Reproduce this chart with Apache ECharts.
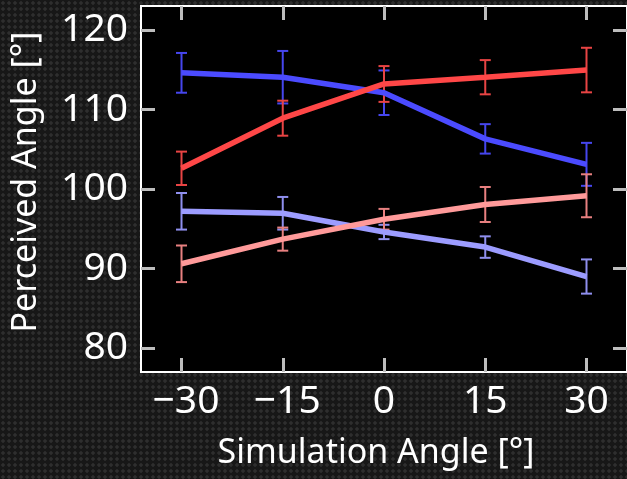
<!DOCTYPE html>
<html>
<head>
<meta charset="utf-8">
<script src="https://cdn.jsdelivr.net/npm/echarts@6/dist/echarts.min.js"></script>
<style>
html, body { margin: 0; padding: 0; }
body {
  width: 627px; height: 479px; overflow: hidden;
  background-color: #171717;
  background-image: radial-gradient(circle, #2e2e2e 1.4px, rgba(0,0,0,0) 2.1px);
  background-size: 6px 6px;
}
#chart { width: 627px; height: 479px; }
</style>
</head>
<body>
<div id="chart"></div>
<script>
// ---- data ----
const xValues = [-30, -15, 0, 15, 30];
const blueMean = [114.6, 114.05, 112.1, 106.3, 103.1];
const blueErr = [2.5, 3.3, 2.8, 1.85, 2.7];
const redMean = [102.6, 108.9, 113.2, 114.05, 114.95];
const redErr = [2.1, 2.2, 2.25, 2.15, 2.8];
const lightBlueMean = [97.2, 96.95, 94.6, 92.7, 89.0];
const lightBlueErr = [2.3, 2.05, 0.9, 1.35, 2.15];
const lightRedMean = [90.6, 93.7, 96.2, 98.05, 99.15];
const lightRedErr = [2.3, 1.45, 1.3, 2.2, 2.7];
const xTicks = [-30, -15, 0, 15, 30];
const yTicks = [80, 90, 100, 110, 120];
const xTitle = 'Simulation Angle [°]';
const yTitle = 'Perceived Angle [°]';

const colors = {
  blue: '#4b4bff', red: '#ff4747', lightBlue: '#9c9cff', lightRed: '#ff9a9a'
};
const errColors = {
  blue: '#4646ee', red: '#e84444', lightBlue: '#8f8fee', lightRed: '#e88080'
};

function pairs(ys) { return xValues.map((x, i) => [x, ys[i]]); }
function errData(ys, es) { return xValues.map((x, i) => [x, ys[i] - es[i], ys[i] + es[i]]); }

function errSeries(ys, es, color) {
  return {
    type: 'custom',
    data: errData(ys, es),
    z: 2,
    silent: true,
    renderItem: function (params, api) {
      const x = api.value(0);
      const lo = api.coord([x, api.value(1)]);
      const hi = api.coord([x, api.value(2)]);
      const hw = 5.5;
      const st = { stroke: color, lineWidth: 2, fill: null };
      return {
        type: 'group',
        children: [
          { type: 'line', shape: { x1: lo[0], y1: lo[1], x2: hi[0], y2: hi[1] }, style: st },
          { type: 'line', shape: { x1: lo[0] - hw, y1: lo[1], x2: lo[0] + hw, y2: lo[1] }, style: st },
          { type: 'line', shape: { x1: hi[0] - hw, y1: hi[1], x2: hi[0] + hw, y2: hi[1] }, style: st }
        ]
      };
    }
  };
}
function lineSeries(ys, color, z) {
  return {
    type: 'line', data: pairs(ys), symbol: 'none', z: z, silent: true,
    lineStyle: { color: color, width: 5.5 }
  };
}

const fontFam = '"Noto Sans", "Open Sans", sans-serif';
const tickStyle = { show: true, inside: true, length: 14, lineStyle: { color: '#bdbdbd', width: 3 } };
const fmt = v => (v < 0 ? '{n|\u2212' + Math.abs(v) + '}' : '{p|' + v + '}');
const labelRich = {
  n: { color: '#fff', fontSize: 39, fontFamily: fontFam, padding: [0, 0, 0, 9] },
  p: { color: '#fff', fontSize: 39, fontFamily: fontFam }
};
const noLine = { show: false, onZero: false };

const chart = echarts.init(document.getElementById('chart'), null, { renderer: 'canvas' });
chart.setOption({
  animation: false,
  backgroundColor: 'transparent',
  grid: {
    left: 141, top: 6, right: -7, bottom: 107,
    show: true, backgroundColor: '#000', borderColor: '#ffffff', borderWidth: 2
  },
  xAxis: [{
    type: 'value', min: -36, max: 36, position: 'bottom',
    axisLine: noLine, splitLine: { show: false },
    axisTick: Object.assign({ customValues: xTicks }, tickStyle),
    axisLabel: { customValues: xTicks, formatter: fmt, rich: labelRich, color: '#fff', fontSize: 39, fontFamily: fontFam, margin: 10 },
    name: xTitle, nameLocation: 'middle', nameGap: 64,
    nameTextStyle: { color: '#fff', fontSize: 34, fontFamily: fontFam, padding: [0, 16, 0, 0] }
  }, {
    type: 'value', min: -36, max: 36, position: 'top',
    axisLine: noLine, splitLine: { show: false },
    axisTick: Object.assign({ customValues: xTicks }, tickStyle),
    axisLabel: { show: false }
  }],
  yAxis: [{
    type: 'value', min: 77, max: 123, position: 'left',
    axisLine: noLine, splitLine: { show: false },
    axisTick: Object.assign({ customValues: yTicks }, tickStyle),
    axisLabel: { customValues: yTicks, color: '#fff', fontSize: 39, fontFamily: fontFam, margin: 13 },
    name: yTitle, nameLocation: 'middle', nameGap: 98,
    nameTextStyle: { color: '#fff', fontSize: 34, fontFamily: fontFam, padding: [0, 0, 0, 14] }
  }, {
    type: 'value', min: 77, max: 123, position: 'right',
    axisLine: noLine, splitLine: { show: false },
    axisTick: Object.assign({ customValues: yTicks }, tickStyle),
    axisLabel: { show: false }
  }],
  series: [
    errSeries(blueMean, blueErr, errColors.blue),
    errSeries(lightBlueMean, lightBlueErr, errColors.lightBlue),
    errSeries(redMean, redErr, errColors.red),
    errSeries(lightRedMean, lightRedErr, errColors.lightRed),
    lineSeries(blueMean, colors.blue, 3),
    lineSeries(lightBlueMean, colors.lightBlue, 3),
    lineSeries(redMean, colors.red, 4),
    lineSeries(lightRedMean, colors.lightRed, 4)
  ]
});
</script>
</body>
</html>
